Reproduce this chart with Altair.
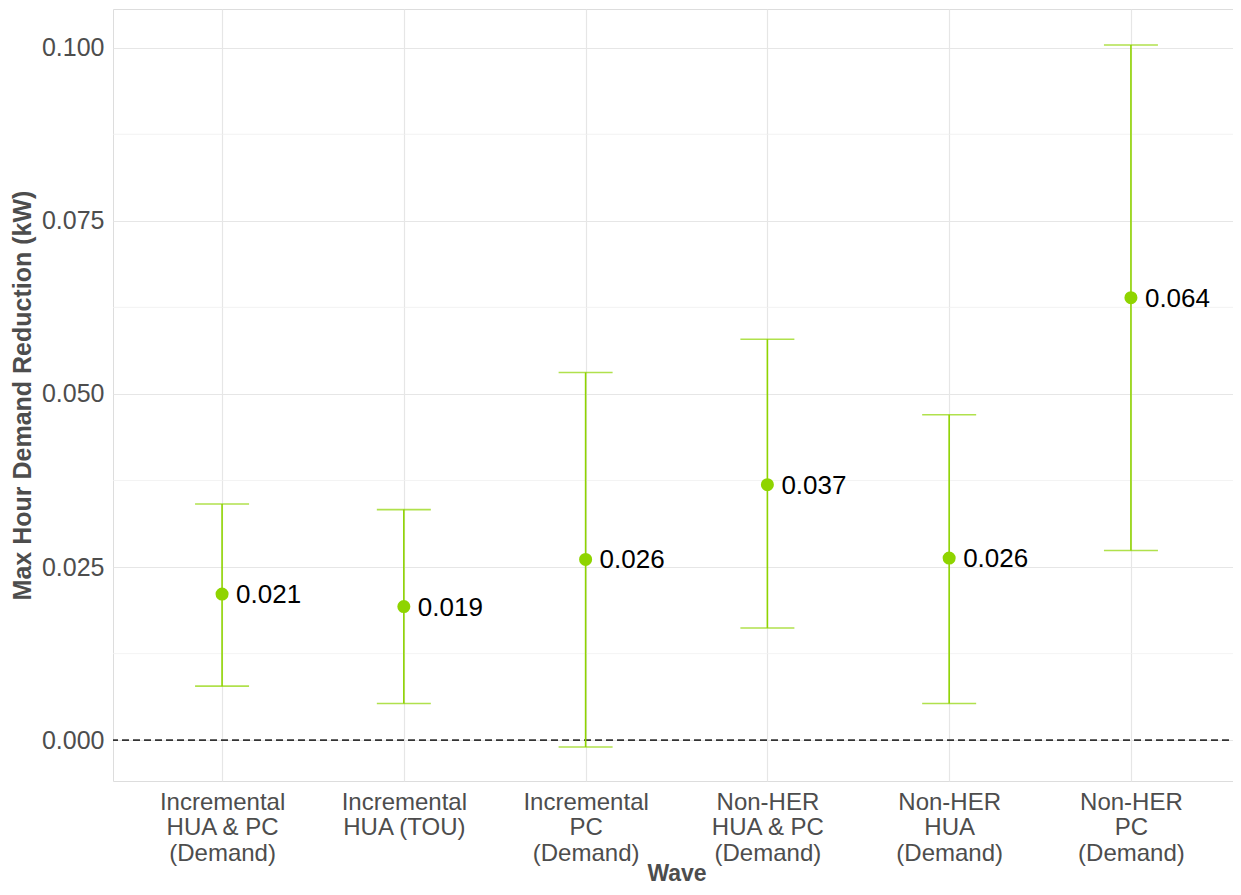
import altair as alt
import pandas as pd

categories = [
    "Incremental|HUA & PC|(Demand)",
    "Incremental|HUA (TOU)",
    "Incremental|PC|(Demand)",
    "Non-HER|HUA & PC|(Demand)",
    "Non-HER|HUA|(Demand)",
    "Non-HER|PC|(Demand)",
]
estimate = [0.0211, 0.0193, 0.0261, 0.0369, 0.0263, 0.0639]
lower = [0.0078, 0.0053, -0.0010, 0.0162, 0.0053, 0.0274]
upper = [0.0341, 0.0333, 0.0531, 0.0579, 0.0470, 0.1004]
labels = ["0.021", "0.019", "0.026", "0.037", "0.026", "0.064"]

major_ticks = [0.0, 0.025, 0.05, 0.075, 0.1]
minor_ticks = [0.0125, 0.0375, 0.0625, 0.0875]

df = pd.DataFrame({"wave": categories, "est": estimate, "lo": lower, "hi": upper, "lab": labels})
minor_df = pd.DataFrame({"v": minor_ticks})
zero_df = pd.DataFrame({"v": [0.0]})

GREEN = "#8fd400"
FONT = "Liberation Sans"

xscale = alt.Scale(type="point", domain=categories, padding=0.6)
yscale = alt.Scale(domain=[-0.0059, 0.1056], nice=False, zero=False)

x_enc = alt.X("wave:N", scale=xscale, sort=categories, title="Wave",
              axis=alt.Axis(labelExpr="split(datum.label, '|')", labelAngle=0,
                            labelFontSize=24, labelLineHeight=25.5, labelColor="#4d4d4d",
                            labelPadding=9, labelBaseline="top",
                            titleFontSize=23, titleFontWeight="bold", titleColor="#4d4d4d",
                            titlePadding=-3, ticks=False, domain=False,
                            grid=True, gridColor="#e6e6e6", gridWidth=1.2,
                            labelFont=FONT, titleFont=FONT))

base = alt.Chart(df)

minor_grid = alt.Chart(minor_df).mark_rule(color="#f0f0f0", strokeWidth=0.8).encode(
    y=alt.Y("v:Q", scale=yscale)
)

bars = base.mark_rule(color=GREEN, strokeWidth=1.6).encode(
    x=x_enc,
    y=alt.Y("lo:Q", scale=yscale, title="Max Hour Demand Reduction (kW)",
            axis=alt.Axis(values=major_ticks, format=".3f", labelFontSize=25,
                          labelColor="#4d4d4d", labelPadding=9, ticks=False, domain=False,
                          titleFontSize=25, titleFontWeight="bold", titleColor="#4d4d4d",
                          titlePadding=6, grid=True, gridColor="#e6e6e6", gridWidth=1.2,
                          labelFont=FONT, titleFont=FONT)),
    y2="hi:Q",
)

caps_lo = base.mark_tick(color=GREEN, size=54, thickness=1.6, orient="horizontal").encode(
    x=alt.X("wave:N", scale=xscale, sort=categories), y=alt.Y("lo:Q", scale=yscale)
)
caps_hi = base.mark_tick(color=GREEN, size=54, thickness=1.6, orient="horizontal").encode(
    x=alt.X("wave:N", scale=xscale, sort=categories), y=alt.Y("hi:Q", scale=yscale)
)

zero_line = alt.Chart(zero_df).mark_rule(color="#333333", strokeWidth=1.6, strokeDash=[7, 4]).encode(
    y=alt.Y("v:Q", scale=yscale)
)

points = base.mark_circle(color=GREEN, size=170, opacity=1).encode(
    x=alt.X("wave:N", scale=xscale, sort=categories), y=alt.Y("est:Q", scale=yscale)
)

texts = base.mark_text(align="left", baseline="middle", dx=14, dy=1, fontSize=26,
                       font=FONT, color="#000000").encode(
    x=alt.X("wave:N", scale=xscale, sort=categories), y=alt.Y("est:Q", scale=yscale),
    text="lab:N"
)

chart = alt.layer(minor_grid, zero_line, bars, caps_lo, caps_hi, points, texts).properties(
    width=1127, height=772,
    autosize=alt.AutoSizeParams(type="none"),
    padding={"left": 105, "top": 1, "right": -7, "bottom": 106},
).configure_view(stroke="#b3b3b3", strokeWidth=1.2).configure(background="white")

chart.save("out.html", embed_options={"renderer": "svg", "actions": False})
